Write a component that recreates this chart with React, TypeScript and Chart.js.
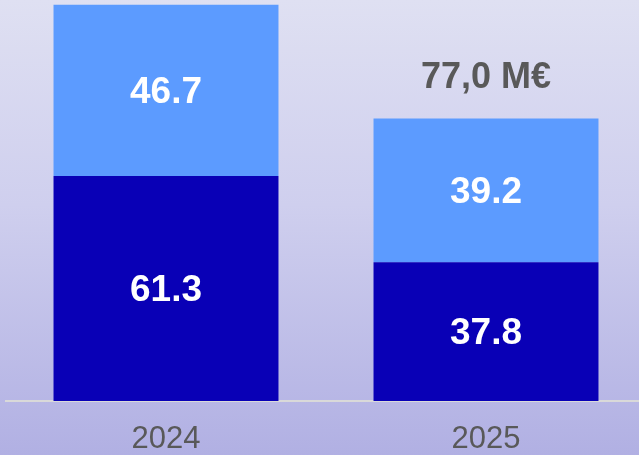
import React, { useEffect, useRef } from "react";
import { Chart, registerables } from "chart.js";

Chart.register(...registerables);

const categories = ["2024", "2025"];
const bottomValues = [61.3, 37.8];
const topValues = [46.7, 39.2];
const totalLabels = ["", "77,0 M€"];
const yMax = 109.3;

const valueLabelPlugin = {
  id: "valueLabels",
  afterDatasetsDraw(chart: any) {
    const ctx = chart.ctx;
    ctx.save();
    ctx.textAlign = "center";
    ctx.textBaseline = "middle";
    ctx.fillStyle = "#ffffff";
    ctx.font = "bold 37px 'Liberation Sans', Arial, sans-serif";
    chart.data.datasets.forEach((ds: any, di: number) => {
      const meta = chart.getDatasetMeta(di);
      meta.data.forEach((bar: any, i: number) => {
        const v = ds.data[i];
        const yc = (bar.y + bar.base) / 2;
        ctx.fillText(v.toFixed(1), bar.x, yc + 2);
      });
    });
    const lastMeta = chart.getDatasetMeta(chart.data.datasets.length - 1);
    ctx.fillStyle = "#595959";
    ctx.font = "bold 36px 'Liberation Sans', Arial, sans-serif";
    ctx.textBaseline = "alphabetic";
    lastMeta.data.forEach((bar: any, i: number) => {
      const t = totalLabels[i];
      if (t) ctx.fillText(t, bar.x, bar.y - 31);
    });
    ctx.restore();
  },
};

export default function App() {
  const ref = useRef<HTMLCanvasElement>(null);
  useEffect(() => {
    if (!ref.current) return;
    const chart = new Chart(ref.current, {
      type: "bar",
      data: {
        labels: categories,
        datasets: [
          {
            data: bottomValues,
            backgroundColor: "#0900b6",
            borderWidth: 0,
            categoryPercentage: 1,
            barPercentage: 0.703,
          },
          {
            data: topValues,
            backgroundColor: "#5c9bff",
            borderWidth: 0,
            categoryPercentage: 1,
            barPercentage: 0.703,
          },
        ],
      },
      options: {
        animation: false,
        responsive: false,
        maintainAspectRatio: false,
        layout: { padding: { left: 6, right: 0, top: 0, bottom: 0 } },
        plugins: {
          legend: { display: false },
          tooltip: { enabled: false },
          title: { display: false },
        },
        scales: {
          x: {
            stacked: true,
            grid: { display: false, drawTicks: false },
            border: { display: true, color: "#d9d9d9", width: 2 },
            ticks: {
              color: "#595959",
              font: { family: "'Liberation Sans', Arial, sans-serif", size: 31 },
              padding: 20,
            },
            afterFit: (scale: any) => {
              scale.height = 54;
            },
          },
          y: {
            stacked: true,
            display: false,
            min: 0,
            max: yMax,
          },
        },
      },
      plugins: [valueLabelPlugin],
    });
    return () => chart.destroy();
  }, []);
  return (
    <div
      style={{
        position: "fixed",
        left: 0,
        top: 0,
        width: 646,
        height: 455,
        overflow: "hidden",
        background: "linear-gradient(to bottom, #dfe0f2 0%, #cfcfee 45%, #b1b0e3 100%)",
      }}
    >
      <canvas ref={ref} width={646} height={455} style={{ display: "block" }} />
    </div>
  );
}
